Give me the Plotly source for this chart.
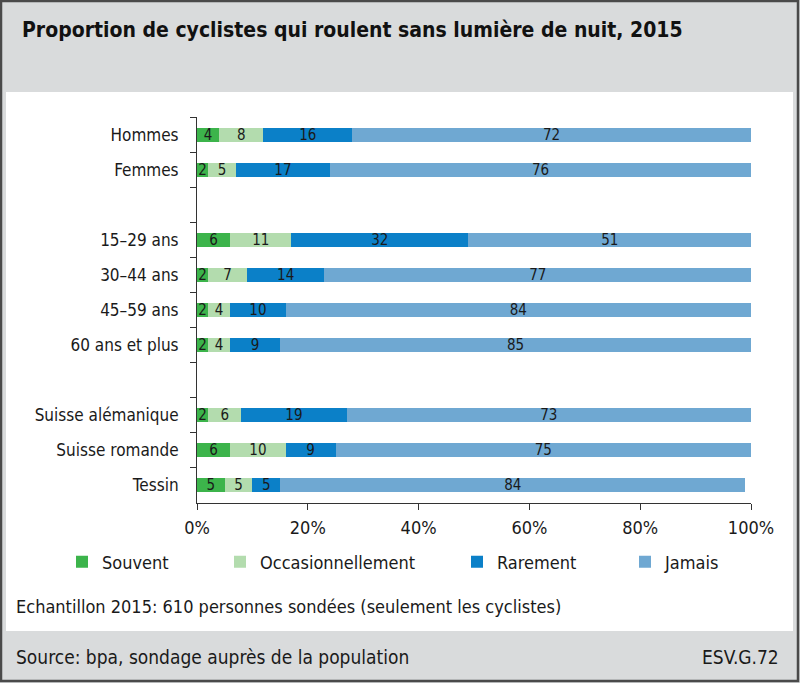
import plotly.graph_objects as go

rows = ["Hommes", "Femmes", " ", "15–29 ans", "30–44 ans", "45–59 ans",
        "60 ans et plus", "  ", "Suisse alémanique", "Suisse romande", "Tessin"]
souvent = [4, 2, None, 6, 2, 2, 2, None, 2, 6, 5]
occasionnellement = [8, 5, None, 11, 7, 4, 4, None, 6, 10, 5]
rarement = [16, 17, None, 32, 14, 10, 9, None, 19, 9, 5]
jamais = [72, 76, None, 51, 77, 84, 85, None, 73, 75, 84]
series_names = ["Souvent", "Occasionnellement", "Rarement", "Jamais"]
x_ticks = [0, 20, 40, 60, 80, 100]

colors = ["#3cb44b", "#b3dcae", "#0b80c8", "#6fa8d2"]
FONT = "DejaVu Sans Condensed, Liberation Sans Narrow, sans-serif"
TXT = "#1a1a1a"

W, H = 800, 683
L, R, T, B = 197, 751, 117, 503  # plot area in px


def px(x):
    return (x - L) / (R - L)


def py(y):
    return (B - y) / (B - T)


fig = go.Figure()
legend_ids = ["legend", "legend2", "legend3", "legend4"]
for name, vals, col, lg in zip(series_names,
                               [souvent, occasionnellement, rarement, jamais],
                               colors, legend_ids):
    fig.add_trace(go.Bar(
        y=rows, x=vals, name=name, orientation="h",
        marker=dict(color=col, line=dict(width=0)),
        text=[("" if v is None else str(v)) for v in vals],
        textposition="inside", insidetextanchor="middle", textangle=0,
        textfont=dict(family=FONT, size=15, color=TXT),
        legend=lg, showlegend=True, hoverinfo="skip",
    ))

swatch_left = [82, 240, 477, 645]
legends = {}
for lg, sx in zip(legend_ids, swatch_left):
    legends[lg] = dict(
        x=px(sx - 20), xanchor="left", y=py(562), yanchor="middle",
        orientation="h", bgcolor="rgba(0,0,0,0)", visible=True,
        font=dict(family=FONT, size=18, color=TXT),
        itemclick=False, itemdoubleclick=False,
    )

shapes = [
    # white panel
    dict(type="rect", xref="paper", yref="paper",
         x0=px(6), x1=px(793), y0=py(631), y1=py(92),
         fillcolor="white", line=dict(width=0), layer="below"),
    # outer frame
    dict(type="rect", xref="paper", yref="paper",
         x0=px(1), x1=px(798), y0=py(681), y1=py(1),
         fillcolor="rgba(0,0,0,0)", line=dict(color="#4a4a4a", width=2.5),
         layer="above"),
]

annotations = [
    dict(text="Echantillon 2015: 610 personnes sondées (seulement les cyclistes)",
         xref="paper", yref="paper", x=px(14), y=py(606),
         xanchor="left", yanchor="middle", showarrow=False,
         font=dict(family=FONT, size=18, color=TXT)),
    dict(text="Source: bpa, sondage auprès de la population",
         xref="paper", yref="paper", x=px(14), y=py(657),
         xanchor="left", yanchor="middle", showarrow=False,
         font=dict(family=FONT, size=19, color=TXT)),
    dict(text="ESV.G.72",
         xref="paper", yref="paper", x=px(781), y=py(657),
         xanchor="right", yanchor="middle", showarrow=False,
         font=dict(family=FONT, size=19, color=TXT)),
]

fig.update_layout(
    width=W, height=H,
    margin=dict(l=L, r=W - R, t=T, b=H - B, pad=0),
    paper_bgcolor="#d9dbdc", plot_bgcolor="white",
    barmode="stack", bargap=0.6, showlegend=True,
    title=dict(text="<b>Proportion de cyclistes qui roulent sans lumière de nuit, 2015</b>",
               x=22 / W, xanchor="left", xref="container",
               y=1 - 30 / H, yanchor="middle", yref="container",
               font=dict(family=FONT, size=21, color="#111111")),
    uniformtext=dict(minsize=15, mode="show"),
    shapes=shapes, annotations=annotations,
    font=dict(family=FONT, color=TXT),
    **legends,
)

fig.update_xaxes(range=[0, 100], tickvals=x_ticks,
                 ticktext=[f"{v}%" for v in x_ticks],
                 showgrid=False, zeroline=False, showline=True,
                 linecolor="#333333", linewidth=1,
                 ticks="outside", ticklen=6, tickcolor="#333333",
                 ticklabelstandoff=2,
                 tickfont=dict(family=FONT, size=18, color=TXT), fixedrange=True)
fig.update_yaxes(type="category", categoryorder="array", categoryarray=rows,
                 autorange="reversed", showgrid=False, zeroline=False,
                 showline=True, linecolor="#333333", linewidth=1,
                 ticks="outside", ticklen=6, tickcolor="#333333",
                 tickson="boundaries", ticklabelstandoff=14,
                 tickfont=dict(family=FONT, size=17, color=TXT), fixedrange=True)

fig.write_html("out.html", config={"displayModeBar": False},
               post_script="document.body.style.margin='0';document.body.style.overflow='hidden';")
